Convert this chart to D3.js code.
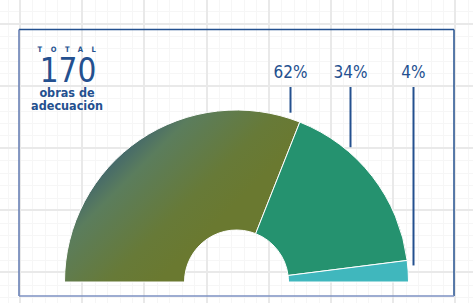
<!DOCTYPE html>
<html>
<head>
<meta charset="utf-8">
<script src="https://cdn.jsdelivr.net/npm/d3@7"></script>
<style>
  html, body { margin: 0; padding: 0; background: #fff; }
  svg { display: block; }
  text { font-family: "DejaVu Sans Condensed", "Liberation Sans Narrow", sans-serif; fill: #24508f; }
</style>
</head>
<body>
<div id="chart"></div>
<script>
// data
var labels = ["62%", "34%", "4%"];
var values = [62, 34, 4];
var colors = ["url(#olive)", "#25926f", "#40b7bd"];
var total = 170;
var totalTitle = "TOTAL";
var totalSub = ["obras de", "adecuación"];

var width = 473, height = 303;
var cx = 236.5, cy = 282, R = 172, r = 52;
var labelDx = [54, 114, 177]; // leader x offsets from centre

var svg = d3.select("#chart").append("svg")
    .attr("width", width)
    .attr("height", height);

var defs = svg.append("defs");
// gradient coords are in the donut group's space (origin at centre)
var grad = defs.append("linearGradient")
    .attr("id", "olive")
    .attr("gradientUnits", "userSpaceOnUse")
    .attr("x1", 88 - cx).attr("y1", 148 - cy)
    .attr("x2", 190 - cx).attr("y2", 250 - cy);
grad.append("stop").attr("offset", 0).attr("stop-color", "#2c5279");
grad.append("stop").attr("offset", 0.35).attr("stop-color", "#5b7d5d");
grad.append("stop").attr("offset", 0.75).attr("stop-color", "#677a38");
grad.append("stop").attr("offset", 1).attr("stop-color", "#6a7930");

// grid paper background
var grid = svg.append("g").attr("shape-rendering", "crispEdges");
var major = 62.2, minor = major / 5;
var x0 = 20 - major, y0 = 23.5 - major;
for (var gx = x0; gx < width; gx += minor) {
    grid.append("line").attr("x1", Math.round(gx) + 0.5).attr("x2", Math.round(gx) + 0.5)
        .attr("y1", 0).attr("y2", height)
        .attr("stroke", "#f6f6f6").attr("stroke-width", 1);
}
for (var gy = y0; gy < height; gy += minor) {
    grid.append("line").attr("y1", Math.round(gy) + 0.5).attr("y2", Math.round(gy) + 0.5)
        .attr("x1", 0).attr("x2", width)
        .attr("stroke", "#f6f6f6").attr("stroke-width", 1);
}
for (var gx = x0; gx < width; gx += major) {
    grid.append("line").attr("x1", Math.round(gx)).attr("x2", Math.round(gx))
        .attr("y1", 0).attr("y2", height)
        .attr("stroke", "#e9e9e9").attr("stroke-width", 2);
}
for (var gy = y0; gy < height; gy += major) {
    grid.append("line").attr("y1", Math.round(gy)).attr("y2", Math.round(gy))
        .attr("x1", 0).attr("x2", width)
        .attr("stroke", "#e9e9e9").attr("stroke-width", 2);
}

// frame
var frame = svg.append("g").attr("fill", "none");
frame.append("line").attr("x1", 19).attr("x2", 454).attr("y1", 29.5).attr("y2", 29.5)
    .attr("stroke", "#23508f").attr("stroke-width", 1.5);
frame.append("line").attr("x1", 454).attr("x2", 454).attr("y1", 29.5).attr("y2", 296)
    .attr("stroke", "#23508f").attr("stroke-width", 1.5);
frame.append("line").attr("x1", 19).attr("x2", 19).attr("y1", 29.5).attr("y2", 296)
    .attr("stroke", "#5f79b0").attr("stroke-width", 1.5);
frame.append("line").attr("x1", 19).attr("x2", 454).attr("y1", 296).attr("y2", 296)
    .attr("stroke", "#7d91c2").attr("stroke-width", 1.5);

// half donut
var pie = d3.pie().sort(null)
    .startAngle(-Math.PI / 2).endAngle(Math.PI / 2);
var arc = d3.arc().innerRadius(r).outerRadius(R);
var arcs = pie(values);

var g = svg.append("g").attr("transform", "translate(" + cx + "," + cy + ")");
g.selectAll("path")
    .data(arcs)
    .enter().append("path")
    .attr("d", arc)
    .attr("fill", function (d, i) { return colors[i]; })
    .attr("stroke", "#fff")
    .attr("stroke-width", 1);

// labels and leaders
var lab = svg.append("g");
arcs.forEach(function (d, i) {
    var lx = cx + labelDx[i];
    var yEnd;
    if (labelDx[i] < R) {
        yEnd = cy - Math.sqrt(R * R - labelDx[i] * labelDx[i]) - 6;
    } else {
        yEnd = cy - R * Math.cos(d.startAngle) + 5;
    }
    lab.append("line")
        .attr("x1", lx).attr("x2", lx)
        .attr("y1", 87).attr("y2", yEnd)
        .attr("stroke", "#24508f").attr("stroke-width", 2);
    lab.append("text")
        .attr("x", lx).attr("y", 78)
        .attr("text-anchor", "middle")
        .attr("font-size", 17)
        .text(labels[i]);
});

// total block
var t = svg.append("g");
t.append("text")
    .attr("x", 67).attr("y", 52)
    .attr("text-anchor", "middle")
    .attr("font-size", 7.5)
    .attr("font-weight", "bold")
    .attr("letter-spacing", 8.6)
    .attr("fill", "#3d5c96")
    .attr("dx", 4)
    .text(totalTitle);
t.append("text")
    .attr("x", 68).attr("y", 82)
    .attr("text-anchor", "middle")
    .attr("font-size", 33)
    .text(total);
t.selectAll(".sub")
    .data(totalSub)
    .enter().append("text")
    .attr("class", "sub")
    .attr("x", 67)
    .attr("y", function (d, i) { return 97 + i * 13; })
    .attr("text-anchor", "middle")
    .attr("font-size", 12.5)
    .attr("font-weight", "bold")
    .text(function (d) { return d; });
</script>
</body>
</html>
